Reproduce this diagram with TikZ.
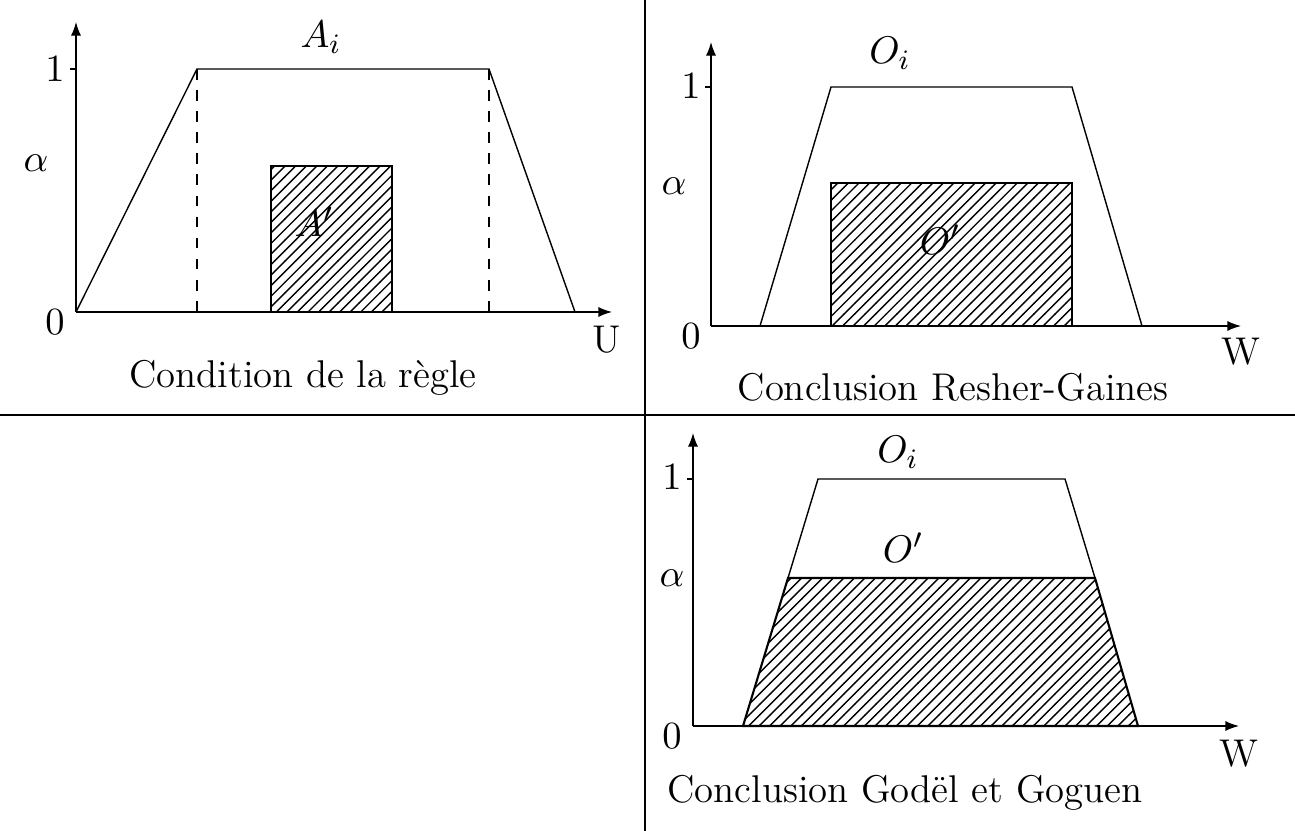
\documentclass[tikz,border=0pt]{standalone}
\usetikzlibrary{patterns,arrows.meta}
\begin{document}
\begin{tikzpicture}[
x=0.01cm, y=-0.01cm,
font=\fontsize{11}{13}\selectfont,
axis/.style={-{Latex[length=3.9pt,width=2.9pt]}, thin},
courbe/.style={thin},
hachure/.style={draw, semithick, pattern=north east lines},
separation/.style={line width=0.6pt},
caption/.style={anchor=base}
]
\useasboundingbox (0,0) rectangle (1295,831);
% separations
\draw[separation] (0,415) -- (1295,415);
\draw[separation] (645,0) -- (645,831);

% condition de la regle
\coordinate (origA) at (76,312);
\coordinate (topA) at (76,22);
\coordinate (endA) at (612,312);
\draw[axis] (origA) -- (topA);
\draw[axis] (origA) -- (endA);
\draw[hachure] (271,312) rectangle (392,166);
\draw[courbe] (origA) -- (197,69) -- (489,69) -- (575,312);
\draw[dashed] (197,69) -- (197,312);
\draw[dashed] (489,69) -- (489,312);
\draw (70,69) -- (76,69);
\node (unA) at (55,69) {$1$};
\node (zeroA) at (55,322) {$0$};
\node (alphaA) at (36,163) {$\alpha$};
\node (axeU) at (607,340) {U};
\node (Ai) at (321,37) {$A_i$};
\node (Aprime) at (314,222) {$A'$};
\node[caption] (captionA) at (303,388) {Condition de la règle};

% conclusion Resher-Gaines
\coordinate (origB) at (711,326);
\coordinate (topB) at (711,42);
\coordinate (endB) at (1241,326);
\draw[axis] (origB) -- (topB);
\draw[axis] (origB) -- (endB);
\draw[hachure] (831,326) rectangle (1072,183);
\draw[courbe] (760,326) -- (831,87) -- (1072,87) -- (1142,326);
\draw (705,87) -- (711,87);
\node (unB) at (691,86) {$1$};
\node (zeroB) at (691,336) {$0$};
\node (alphaB) at (674,186) {$\alpha$};
\node (axeWB) at (1241,352) {W};
\node (OiB) at (890,53) {$O_i$};
\node (OprimeB) at (940,240) {$O'$};
\node[caption] (captionB) at (953,401) {Conclusion Resher-Gaines};

% conclusion Godel et Goguen
\coordinate (origC) at (693,726);
\coordinate (topC) at (693,433);
\coordinate (endC) at (1239,726);
\draw[axis] (origC) -- (topC);
\draw[axis] (origC) -- (endC);
\draw[hachure] (743,726) -- (788,578) -- (1095,578) -- (1138,726) -- cycle;
\draw[courbe] (788,578) -- (818,479) -- (1065,479) -- (1095,578);
\draw (687,479) -- (693,479);
\node (unC) at (672,477) {$1$};
\node (zeroC) at (672,736) {$0$};
\node (alphaC) at (672,578) {$\alpha$};
\node (axeWC) at (1239,754) {W};
\node (OiC) at (898,452) {$O_i$};
\node (OprimeC) at (903,548) {$O'$};
\node[caption] (captionC) at (905,802) {Conclusion Godël et Goguen};
\end{tikzpicture}
\end{document}
